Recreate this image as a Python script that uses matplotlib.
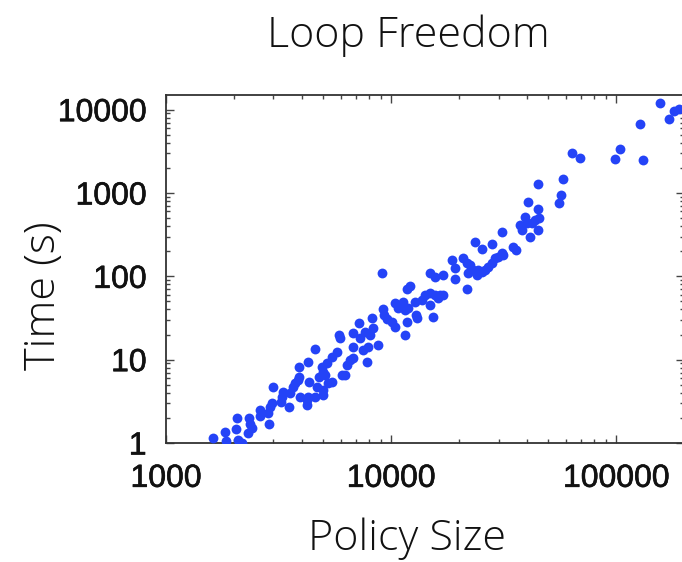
import matplotlib
matplotlib.use("Agg")
import matplotlib.pyplot as plt
import matplotlib.patheffects as pe
from matplotlib.ticker import FixedLocator, LogLocator, NullFormatter, FixedFormatter

# ---- data ----
policy_size = [
    1613, 1829, 1842, 2062, 2048, 2096, 2170, 2346, 2363, 2322,
    2404, 2617, 2617, 2878, 2899, 2950, 2849, 3000, 3235, 3268,
    3322, 3532, 3557, 3679, 3744, 3873, 3912, 3912, 3941, 4221,
    4246, 4290, 4290, 4335, 4595, 4595, 4676, 4801, 4920, 5002,
    5089, 5002, 5002, 5178, 5264, 5450, 5450, 5736, 5872, 5933,
    6038, 6245, 6355, 6573, 6758, 6799, 6799, 7230, 7280, 7530,
    7662, 7798, 7927, 8066, 8207, 8342, 8781, 9090, 9185, 9309,
    9570, 10070, 10420, 10420, 10780, 11340, 11540, 11740, 11540, 11740,
    12140, 11940, 12790, 12920, 13010, 13690, 14160, 14910, 14910, 15420,
    15690, 16230, 16510, 17080, 14910, 15690, 17080, 18620, 19250, 19250,
    21700, 20960, 21700, 22430, 22050, 23210, 24030, 24430, 25300, 26170,
    27070, 28030, 29000, 29990, 31050, 31560, 23620, 25300, 28030, 31050,
    34960, 35930, 37440, 38100, 39410, 40100, 40760, 41480, 42200, 43650,
    45150, 45610, 45150, 45150, 55410, 56960, 57960, 63550, 69180, 99000,
    104200, 127900, 131400, 155800, 171500, 179800, 189200,
]
time_s = [
    1.14, 1.37, 1.06, 1.98, 1.47, 1.09, 1.0, 1.98, 1.69, 1.33,
    1.50, 2.49, 2.11, 1.69, 2.73, 3.05, 2.27, 4.74, 3.13, 3.60,
    4.13, 2.68, 3.95, 4.74, 5.21, 5.71, 8.24, 6.25, 3.60, 2.86,
    3.28, 3.60, 9.46, 5.44, 13.3, 3.60, 4.74, 6.25, 8.24, 7.18,
    6.55, 4.33, 3.77, 9.05, 5.21, 5.44, 10.9, 12.5, 19.8, 18.1,
    6.55, 6.55, 8.64, 9.92, 10.4, 14.3, 20.7, 27.8, 18.1, 13.1,
    21.7, 9.46, 14.3, 19.8, 31.4, 23.8, 15.0, 111, 40.3, 34.4,
    30.5, 28.6, 24.9, 47.5, 41.4, 49.7, 39.5, 28.6, 19.8, 70.0,
    76.7, 41.4, 49.7, 34.4, 31.4, 52.1, 59.8, 62.7, 45.4, 32.8,
    59.8, 54.6, 59.8, 59.8, 109, 99.2, 104, 157, 125, 92.3,
    70.0, 165, 144, 137, 111, 119, 104, 119, 114, 119,
    131, 144, 165, 172, 189, 181, 261, 211, 243, 344,
    227, 207, 414, 361, 521, 434, 789, 300, 434, 475,
    639, 498, 361, 1276, 755, 949, 1465, 3055, 2617, 2546,
    3356, 6699, 2496, 12170, 7755, 9750, 10220,
]

x_ticks = [1000, 10000, 100000]
x_tick_labels = ["1000", "10000", "100000"]
y_ticks = [1, 10, 100, 1000, 10000]
y_tick_labels = ["1", "10", "100", "1000", "10000"]

title = "Loop Freedom"
x_label = "Policy Size"
y_label = "Time (s)"

# ---- figure ----
W, H = 682, 562
fig = plt.figure(figsize=(W / 100, H / 100), dpi=100)

left, right, top, bottom = 166, 684, 95, 443
ax = fig.add_axes([left / W, 1 - bottom / H, (right - left) / W, (bottom - top) / H])

ax.scatter(policy_size, time_s, s=50, color="#2443f7", linewidths=0, zorder=3)

ax.set_xscale("log")
ax.set_yscale("log")
ax.set_xlim(1000, 200000)
ax.set_ylim(1, 15000)

ax.xaxis.set_major_locator(FixedLocator(x_ticks))
ax.xaxis.set_major_formatter(FixedFormatter(x_tick_labels))
ax.yaxis.set_major_locator(FixedLocator(y_ticks))
ax.yaxis.set_major_formatter(FixedFormatter(y_tick_labels))
ax.xaxis.set_minor_locator(LogLocator(base=10, subs=range(2, 10)))
ax.yaxis.set_minor_locator(LogLocator(base=10, subs=range(2, 10)))
ax.xaxis.set_minor_formatter(NullFormatter())
ax.yaxis.set_minor_formatter(NullFormatter())
for lbl in ax.get_xticklabels() + ax.get_yticklabels():
    lbl.set_fontfamily(["Liberation Sans", "DejaVu Sans"])
    lbl.set_fontsize(23)
    lbl.set_color("#111111")
    lbl.set_path_effects([pe.withStroke(linewidth=0.45, foreground="#111111")])

ax.tick_params(which="both", direction="in", top=True, right=True,
               color="#444444", width=1.0)
ax.tick_params(which="major", length=5.5)
ax.tick_params(which="minor", length=3)
ax.tick_params(axis="y", which="major", pad=14)
ax.tick_params(axis="x", which="major", pad=15)

for sp in ax.spines.values():
    sp.set_color("#333333")
    sp.set_linewidth(1.3)

light = ["Open Sans", "Lato", "DejaVu Sans"]
fig.text(408 / W, 1 - 47 / H, title, ha="center", va="baseline",
         fontsize=31, family=light, fontweight="light", color="#111111")
fig.text(407 / W, 1 - 550 / H, x_label, ha="center", va="baseline",
         fontsize=31, family=light, fontweight="light", color="#111111")
fig.text(55 / W, 1 - 296 / H, y_label, ha="center", va="baseline",
         rotation=90, rotation_mode="anchor",
         fontsize=31, family=light, fontweight="light", color="#111111")

fig.savefig("out.png", dpi=100)
